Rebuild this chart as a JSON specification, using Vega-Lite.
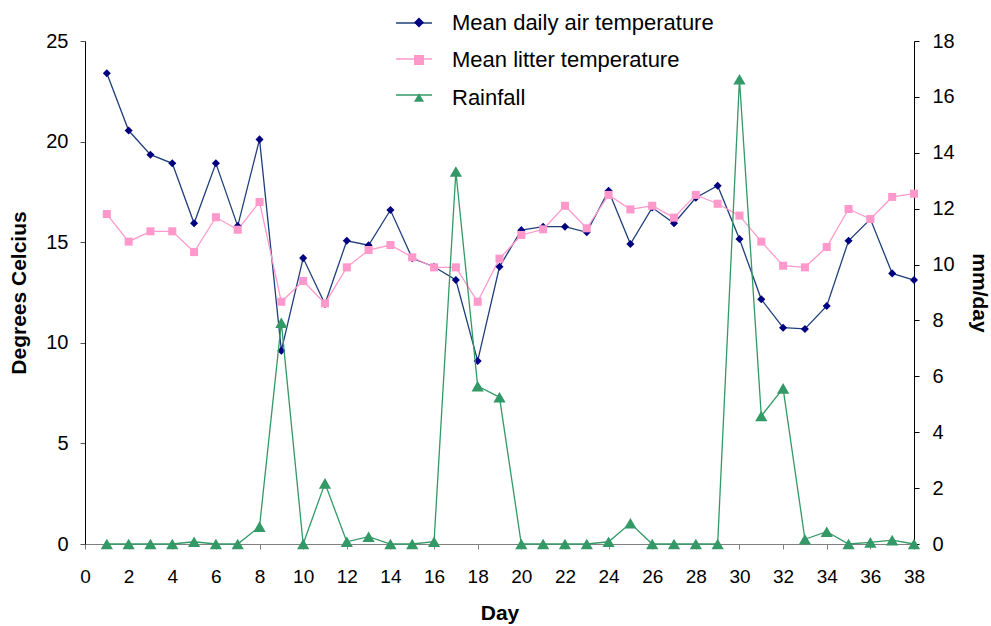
{
  "$schema": "https://vega.github.io/schema/vega-lite/v6.json",
  "width": 829,
  "height": 503,
  "autosize": {"type": "none"},
  "padding": {"left": 85, "top": 41, "right": 77, "bottom": 82},
  "background": "white",
  "config": {
    "view": {"stroke": null},
    "font": "Liberation Sans",
    "axis": {"grid": false, "labelColor": "black", "titleColor": "black", "tickSize": 5, "labelFont": "Liberation Sans", "titleFont": "Liberation Sans"}
  },
  "data": {
    "values": [
      {"day": 1, "air": 23.4, "litter": 16.4, "rain": 0},
      {"day": 2, "air": 20.55, "litter": 15.03, "rain": 0},
      {"day": 3, "air": 19.35, "litter": 15.54, "rain": 0},
      {"day": 4, "air": 18.92, "litter": 15.54, "rain": 0},
      {"day": 5, "air": 15.94, "litter": 14.51, "rain": 0.08},
      {"day": 6, "air": 18.92, "litter": 16.24, "rain": 0},
      {"day": 7, "air": 15.8, "litter": 15.62, "rain": 0},
      {"day": 8, "air": 20.11, "litter": 17.0, "rain": 0.62},
      {"day": 9, "air": 9.61, "litter": 12.04, "rain": 7.92},
      {"day": 10, "air": 14.21, "litter": 13.07, "rain": 0},
      {"day": 11, "air": 11.93, "litter": 11.96, "rain": 2.17},
      {"day": 12, "air": 15.07, "litter": 13.75, "rain": 0.08},
      {"day": 13, "air": 14.85, "litter": 14.61, "rain": 0.26},
      {"day": 14, "air": 16.6, "litter": 14.86, "rain": 0},
      {"day": 15, "air": 14.2, "litter": 14.25, "rain": 0},
      {"day": 16, "air": 13.78, "litter": 13.75, "rain": 0.08},
      {"day": 17, "air": 13.12, "litter": 13.75, "rain": 13.33},
      {"day": 18, "air": 9.1, "litter": 12.04, "rain": 5.65},
      {"day": 19, "air": 13.78, "litter": 14.18, "rain": 5.25},
      {"day": 20, "air": 15.6, "litter": 15.36, "rain": 0},
      {"day": 21, "air": 15.77, "litter": 15.64, "rain": 0},
      {"day": 22, "air": 15.77, "litter": 16.81, "rain": 0},
      {"day": 23, "air": 15.49, "litter": 15.69, "rain": 0},
      {"day": 24, "air": 17.56, "litter": 17.35, "rain": 0.08},
      {"day": 25, "air": 14.91, "litter": 16.63, "rain": 0.74},
      {"day": 26, "air": 16.72, "litter": 16.81, "rain": 0},
      {"day": 27, "air": 15.94, "litter": 16.22, "rain": 0},
      {"day": 28, "air": 17.21, "litter": 17.35, "rain": 0},
      {"day": 29, "air": 17.81, "litter": 16.91, "rain": 0},
      {"day": 30, "air": 15.16, "litter": 16.32, "rain": 16.63},
      {"day": 31, "air": 12.16, "litter": 15.03, "rain": 4.58},
      {"day": 32, "air": 10.75, "litter": 13.83, "rain": 5.57},
      {"day": 33, "air": 10.69, "litter": 13.75, "rain": 0.17},
      {"day": 34, "air": 11.83, "litter": 14.76, "rain": 0.44},
      {"day": 35, "air": 15.07, "litter": 16.65, "rain": 0},
      {"day": 36, "air": 16.15, "litter": 16.15, "rain": 0.06},
      {"day": 37, "air": 13.45, "litter": 17.25, "rain": 0.14},
      {"day": 38, "air": 13.12, "litter": 17.41, "rain": 0}
    ]
  },
  "transform": [{"fold": ["air", "litter", "rain"], "as": ["series", "value"]}],
  "encoding": {
    "x": {
      "field": "day",
      "type": "quantitative",
      "scale": {"domain": [0, 38], "nice": false, "zero": false},
      "axis": {
        "title": "Day",
        "values": [0, 2, 4, 6, 8, 10, 12, 14, 16, 18, 20, 22, 24, 26, 28, 30, 32, 34, 36, 38],
        "domainColor": "#808080",
        "tickColor": "#808080",
        "labelFont": "Liberation Sans Narrow, Liberation Sans",
        "labelFontSize": 19,
        "labelPadding": 18,
        "labelFlush": false,
        "titleFont": "Liberation Sans Narrow, Liberation Sans",
        "titleFontSize": 21,
        "titleFontWeight": "bold",
        "titlePadding": 16
      }
    }
  },
  "layer": [
    {
      "transform": [{"filter": "datum.series != 'rain'"}],
      "encoding": {
        "y": {
          "field": "value",
          "type": "quantitative",
          "scale": {"domain": [0, 25], "nice": false},
          "axis": {
            "orient": "left",
            "title": "Degrees Celcius",
            "values": [0, 5, 10, 15, 20, 25],
            "domainColor": "black",
            "tickColor": "#555555",
            "labelFontSize": 20,
            "labelPadding": 12,
            "titleFontSize": 21,
            "titleFontWeight": "bold",
            "titlePadding": 16
          }
        }
      },
      "layer": [
        {
          "mark": {"type": "line", "strokeWidth": 1.3},
          "encoding": {
            "stroke": {
              "field": "series",
              "type": "nominal",
              "scale": {"range": ["#1F3F7A", "#FF99CC", "#339966"]},
              "legend": {
                "orient": "none",
                "legendX": 310,
                "legendY": -37,
                "title": null,
                "symbolType": "stroke",
                "symbolSize": 1296,
                "symbolStrokeWidth": 1.3,
                "rowPadding": 7,
                "labelOpacity": 0,
                "labelFontSize": 21,
                "labelLimit": 10,
                "labelExpr": "''",
                "padding": 0
              }
            }
          }
        },
        {
          "mark": {"type": "point", "filled": true, "opacity": 1, "strokeWidth": 0},
          "encoding": {
            "fill": {
              "field": "series",
              "type": "nominal",
              "scale": {"domain": ["air", "litter", "rain"], "range": ["#000080", "#FF99CC", "#339966"]},
              "legend": {
                "orient": "none",
                "legendX": 323,
                "legendY": -29.5,
                "title": null,
                "rowPadding": 15.5,
                "labelFontSize": 22,
                "labelOffset": 22,
                "labelLimit": 400,
                "labelColor": "black",
                "padding": 0,
                "labelExpr": "datum.label == 'air' ? 'Mean daily air temperature' : datum.label == 'litter' ? 'Mean litter temperature' : 'Rainfall'"
              }
            },
            "shape": {
              "field": "series",
              "type": "nominal",
              "scale": {"domain": ["air", "litter", "rain"], "range": ["diamond", "square", "triangle-up"]}
            },
            "size": {"value": 65}
          }
        }
      ]
    },
    {
      "transform": [{"filter": "datum.series == 'rain'"}],
      "encoding": {
        "y": {
          "field": "value",
          "type": "quantitative",
          "scale": {"domain": [0, 18], "nice": false},
          "axis": {
            "orient": "right",
            "title": "mm/day",
            "values": [0, 2, 4, 6, 8, 10, 12, 14, 16, 18],
            "domainColor": "black",
            "tickColor": "black",
            "labelFontSize": 20,
            "labelPadding": 13,
            "titleFontSize": 21,
            "titleFontWeight": "bold",
            "titlePadding": 14
          }
        }
      },
      "layer": [
        {
          "mark": {"type": "line", "strokeWidth": 1.3},
          "encoding": {"stroke": {"field": "series", "type": "nominal"}}
        },
        {
          "mark": {"type": "point", "filled": true, "opacity": 1, "strokeWidth": 0},
          "encoding": {
            "fill": {"field": "series", "type": "nominal"},
            "shape": {"field": "series", "type": "nominal"},
            "size": {"value": 150}
          }
        }
      ]
    }
  ],
  "resolve": {"scale": {"y": "independent"}}
}
